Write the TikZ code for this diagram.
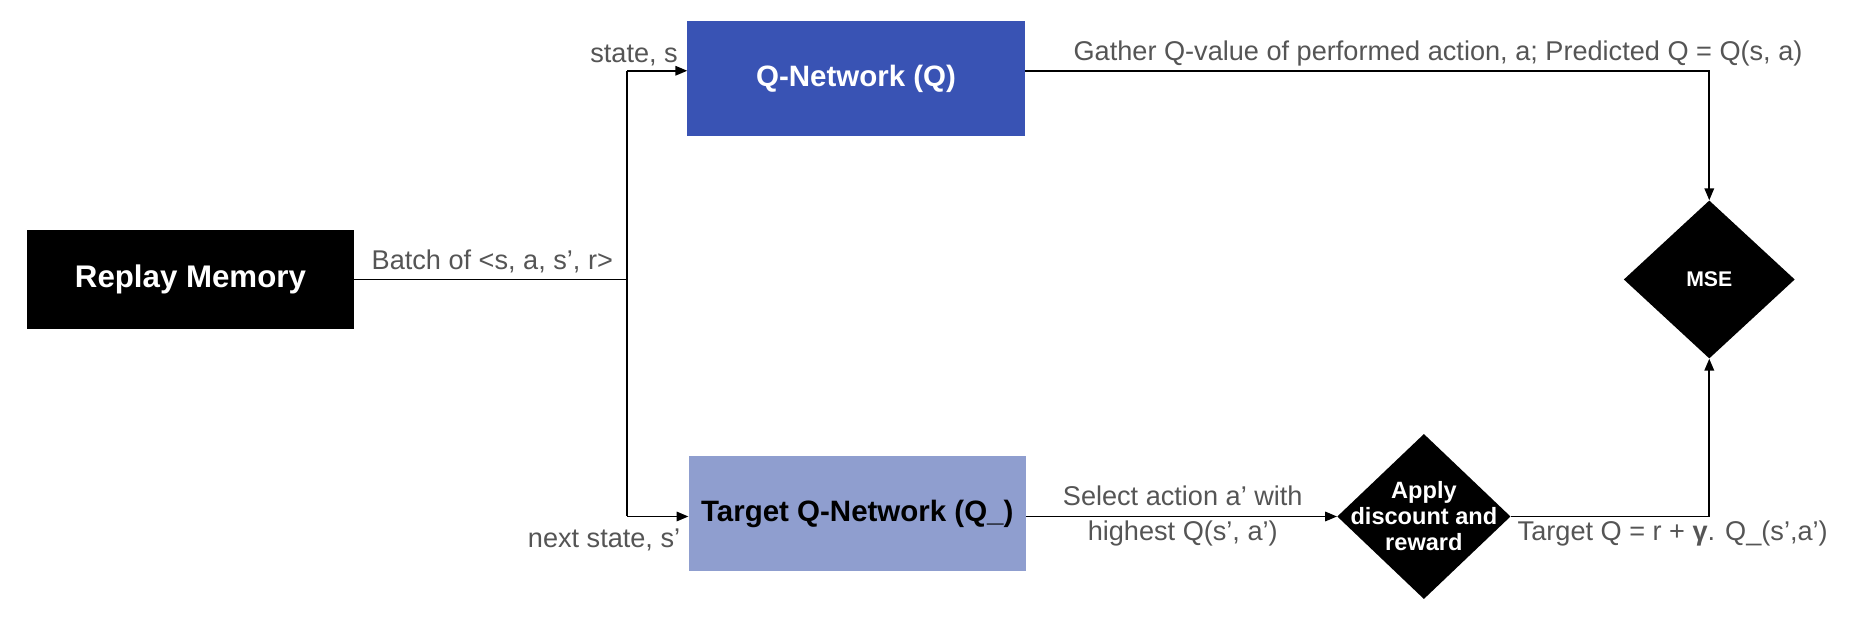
\documentclass[tikz,border=0pt]{standalone}
\usepackage{fontspec}
\setmainfont{Liberation Sans}
\usetikzlibrary{arrows.meta,shapes.geometric}
\definecolor{qblue}{HTML}{3953B4}
\definecolor{tblue}{HTML}{8F9ECF}
\definecolor{lblgray}{HTML}{555555}
\begin{document}
\begin{tikzpicture}[x=1pt,y=-1pt,
  box/.style={rectangle, inner sep=0pt, font=\fontsize{25}{30}\selectfont\bfseries},
  dia/.style={diamond, fill=black, inner sep=0pt},
  diatext/.style={text=white, inner sep=0pt, align=center},
  lbl/.style={text=lblgray, font=\fontsize{23}{29}\selectfont, inner sep=0pt, align=center},
  conn/.style={line width=1.5pt, draw=black},
  arr/.style={conn, -{Triangle[length=10pt,width=8pt]}}]
\useasboundingbox[fill=white] (0,0) rectangle (1568,524);

\node[box, fill=black, text=white, minimum width=277pt, minimum height=84pt, font=\fontsize{26.5}{30}\selectfont\bfseries] (replay) at (161.5,237) {Replay Memory};
\node[box, fill=qblue, text=white, minimum width=286pt, minimum height=97pt] (qnet) at (726,66.5) {Q-Network (Q)};
\node[box, fill=tblue, text=black, minimum width=286pt, minimum height=97pt] (target) at (727,435.5) {Target Q-Network (Q\_)};
\node[dia, minimum width=145pt, minimum height=134pt] (mse) at (1449.5,237) {};
\node[diatext, font=\fontsize{18}{22}\selectfont\bfseries] (msetext) at (mse.center) {MSE};
\node[dia, minimum width=147pt, minimum height=140pt] (apply) at (1207.5,438) {};
\node[diatext, font=\fontsize{20}{22}\selectfont\bfseries] (applytext) at (apply.center) {Apply\\discount and\\reward};

\coordinate (j) at (532,237);
\coordinate (jq) at (532,60);
\coordinate (jt) at (532,438);

\draw[conn] (replay.east) -- (j);
\draw[conn] (jq) -- (jt);
\draw[arr] (jq) -- (jq -| qnet.west);
\draw[arr] (jt) -- (jt -| target.west);
\draw[arr] (qnet.east |- jq) -| (mse.north);
\draw[arr] (target.east |- jt) -- (apply.west);
\draw[arr] (apply.east) -| (mse.south);

\node[lbl, anchor=east] (ls) at (575,47) {state, s};
\node[lbl, anchor=east] (lns) at (577,458) {next state, s’};
\node[lbl] (lb) at (417.5,222) {Batch of <s, a, s’, r>};
\node[lbl] (lg) at (1219.5,45) {Gather Q-value of performed action, a; Predicted Q = Q(s, a)};
\node[lbl] (lsel) at (1003,437.5) {Select action a’ with\\highest Q(s’, a’)};
\node[lbl] (ltq) at (1418.5,452) {Target Q = r + \textbf{γ}. Q\_(s’,a’)};
\end{tikzpicture}
\end{document}
